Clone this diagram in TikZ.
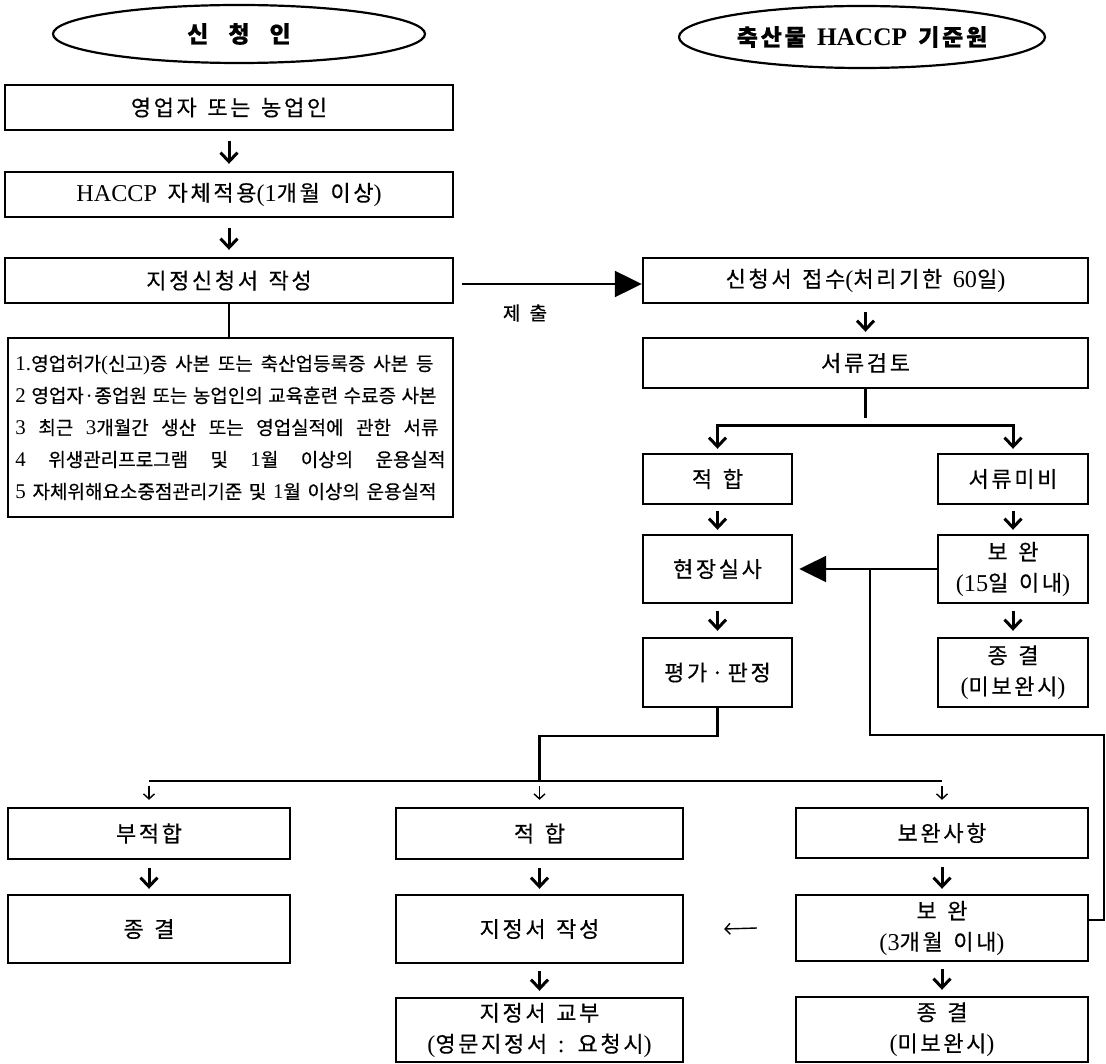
\documentclass[tikz,border=0pt]{standalone}
\usepackage{fontspec}
\setmainfont{Noto Sans CJK KR}[LetterSpace=12, WordSpace={1.4,1,1}, FakeBold=0.4]
\newfontfamily\listfont{Noto Sans CJK KR}[WordSpace={1.2,3,0.6}, FakeBold=0.4]
\newfontfamily\latfont{Liberation Serif}[Scale=1.1]
\newcommand\ltn[1]{{\latfont #1}}
\usetikzlibrary{arrows.meta,shapes.geometric}

\tikzset{
  box/.style={draw, rectangle, line width=2.4pt, inner sep=0pt, align=center,
              font=\fontsize{22}{31}\selectfont},
  title/.style={draw, ellipse, line width=2.2pt, inner sep=0pt,
                font=\bfseries\fontsize{23}{26}\selectfont},
  conn/.style={line width=2.2pt},
  flow/.style={line width=3pt, -{Straight Barb[length=9pt,width=17pt]}},
  thinflow/.style={line width=1.4pt, -{Straight Barb[length=5pt,width=11pt]}},
  bigtip/.style={line width=2.2pt, -{Triangle[length=27pt,width=26pt]}},
  lbl/.style={inner sep=0pt, font=\fontsize{19}{22}\selectfont},
}

\begin{document}
\begin{tikzpicture}[x=1pt, y=-1pt]
\useasboundingbox (0,0) rectangle (1106,1064);

% ---- headers ----
\node[title, minimum width=372pt, minimum height=58pt] (appl) at (239,34)
  {신\hspace{20pt}청\hspace{20pt}인};
\node[title, minimum width=366pt, minimum height=62pt] (inst) at (862,37)
  {축산물 \ltn{HACCP} 기준원};

% ---- applicant column ----
\node[box, minimum width=448pt, minimum height=45pt] (b1) at (229,107.5) {영업자 또는 농업인};
\node[box, minimum width=448pt, minimum height=45pt] (b2) at (229,194.5)
  {\ltn{HACCP} 자체적용\ltn{(1}개월 이상\ltn{)}};
\node[box, minimum width=448pt, minimum height=45pt] (b3) at (229,280.5) {지정신청서 작성};
\node[box, minimum width=445pt, minimum height=179pt, align=left,
      font=\listfont\fontsize{19}{32}\selectfont] (docs) at (230.5,427.5)
  {\makebox[418pt][s]{\ltn{1.}영업허가\ltn{(}신고\ltn{)}증 사본 또는 축산업등록증 사본 등}\\
   \makebox[421pt][s]{\ltn{2} 영업자·종업원 또는 농업인의 교육훈련 수료증 사본}\\
   \makebox[423pt][s]{\ltn{3} 최근 \ltn{3}개월간 생산 또는 영업실적에 관한 서류}\\
   \makebox[430pt][s]{\ltn{4} 위생관리프로그램 및 \ltn{1}월 이상의 운용실적}\\
   \makebox[421pt][s]{\ltn{5} 자체위해요소중점관리기준 및 \ltn{1}월 이상의 운용실적}};

% ---- institute column ----
\node[box, minimum width=445pt, minimum height=45pt] (r1) at (865.5,280.5)
  {신청서 접수\ltn{(}처리기한 \ltn{60}일\ltn{)}};
\node[box, minimum width=445pt, minimum height=50pt] (r2) at (865.5,363) {서류검토};
\node[box, minimum width=149pt, minimum height=50pt] (r3) at (717.5,479) {적 합};
\node[box, minimum width=150pt, minimum height=50pt] (r4) at (1013,479) {서류미비};
\node[box, minimum width=149pt, minimum height=68pt] (r5) at (717.5,569) {현장실사};
\node[box, minimum width=150pt, minimum height=68pt] (r6) at (1013,569)
  {보 완\\\ltn{(15}일 이내\ltn{)}};
\node[box, minimum width=149pt, minimum height=69pt] (r7) at (717.5,672.5)
  {평가\hspace{4pt}·\hspace{4pt}판정};
\node[box, minimum width=150pt, minimum height=69pt] (r8) at (1013,672.5)
  {종 결\\\ltn{(}미보완시\ltn{)}};

% ---- outcome row ----
\node[box, minimum width=282pt, minimum height=51pt] (fail) at (149,833.5) {부적합};
\node[box, minimum width=282pt, minimum height=68pt] (failend) at (149,929) {종 결};
\node[box, minimum width=287pt, minimum height=51pt] (pass) at (539.5,833.5) {적 합};
\node[box, minimum width=287pt, minimum height=68pt] (cert) at (539.5,929) {지정서 작성};
\node[box, minimum width=287pt, minimum height=64pt] (issue) at (539.5,1030)
  {지정서 교부\\\ltn{(}영문지정서 \ltn{:} 요청시\ltn{)}};
\node[box, minimum width=292pt, minimum height=50pt] (fix) at (942,833) {보완사항};
\node[box, minimum width=292pt, minimum height=66pt] (fixdo) at (942,928)
  {보 완\\\ltn{(3}개월 이내\ltn{)}};
\node[box, minimum width=292pt, minimum height=65pt] (fixend) at (942,1029.5)
  {종 결\\\ltn{(}미보완시\ltn{)}};

% ---- applicant flow ----
\draw[flow] ([yshift=-10pt]b1.south) -- ([yshift=7pt]b2.north);
\draw[flow] ([yshift=-10pt]b2.south) -- ([yshift=7pt]b3.north);
\draw[conn] (b3.south) -- (b3.south |- docs.north);

% ---- submission ----
\coordinate (sub) at (462,284);
\draw[bigtip] (sub) -- (sub -| r1.west);
\node[lbl] (sublbl) at (525,313) {제 출};

% ---- review ----
\draw[flow] ([yshift=-8pt]r1.south) -- ([yshift=5pt]r2.north);
\draw[conn] (r2.south) -- ++(0,29);
\coordinate (split) at (865,426);
\draw[flow] (split) -| ([yshift=4pt]r3.north);
\draw[flow] (split) -| ([yshift=4pt]r4.north);
\draw[flow] ([yshift=-6pt]r3.south) -- ([yshift=4pt]r5.north);
\draw[flow] ([yshift=-6pt]r4.south) -- ([yshift=4pt]r6.north);
\draw[flow] ([yshift=-7pt]r5.south) -- ([yshift=6pt]r7.north);
\draw[flow] ([yshift=-7pt]r6.south) -- ([yshift=6pt]r8.north);
\draw[bigtip] (r6.west) -- ([xshift=6pt]r5.east);

% ---- return loop from supplementation ----
\coordinate (rejoin) at (870,569);
\draw[conn] ([yshift=8pt]fixdo.east) -- ++(15,0) |- (870,735) -- (rejoin);

% ---- evaluation split ----
\coordinate (busL) at (149,781);
\coordinate (busR) at (942,781);
\draw[conn] (r7.south) -- ++(0,28) -| (pass.north |- busL);
\draw[conn] (busL) -- (busR);
\draw[thinflow] ([yshift=-5pt]busL) -- ([yshift=7pt]fail.north);
\draw[thinflow] ([yshift=-5pt]pass.north |- busL) -- ([yshift=7pt]pass.north);
\draw[thinflow] ([yshift=-5pt]busR) -- ([yshift=7pt]fix.north);

% ---- outcome flows ----
\draw[flow] ([yshift=-8pt]fail.south) -- ([yshift=5pt]failend.north);
\draw[flow] ([yshift=-8pt]pass.south) -- ([yshift=5pt]cert.north);
\draw[flow] ([yshift=-7pt]cert.south) -- ([yshift=6pt]issue.north);
\draw[flow] ([yshift=-8pt]fix.south) -- ([yshift=5pt]fixdo.north);
\draw[flow] ([yshift=-7pt]fixdo.south) -- ([yshift=6pt]fixend.north);
\draw[thinflow] ([xshift=-38pt]fixdo.west) -- ([xshift=40pt]cert.east);

\end{tikzpicture}
\end{document}
